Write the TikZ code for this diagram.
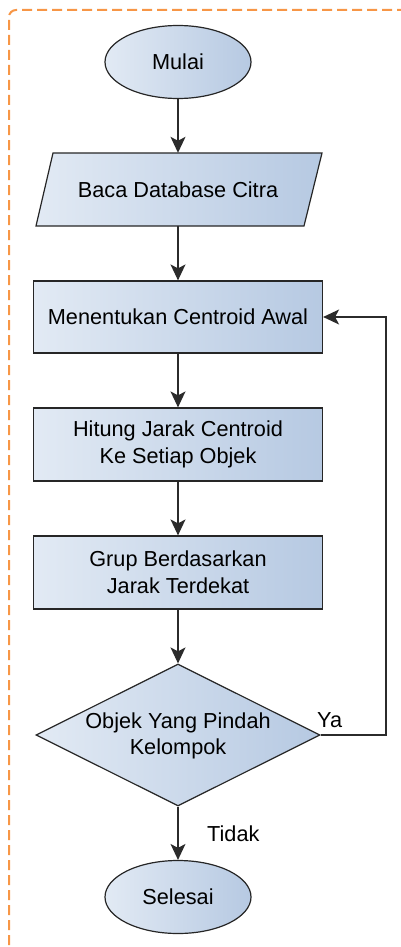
\documentclass[tikz,border=0pt]{standalone}
\usepackage{fontspec}
\setmainfont{Liberation Sans}
\usetikzlibrary{shapes.geometric,arrows.meta}
\definecolor{fillL}{HTML}{E2EAF4}
\definecolor{fillR}{HTML}{B6C9E2}
\definecolor{frameC}{HTML}{F79646}
\definecolor{lineC}{HTML}{2B2B2B}
\tikzset{
  shapefill/.style={draw=black!85, line width=1.2pt, left color=fillL, right color=fillR},
  shapebox/.style={shapefill, inner sep=0pt, align=center, font=\fontsize{21.7}{26.7}\selectfont},
  term/.style={shapebox, ellipse, minimum width=146pt, minimum height=73pt},
  proc/.style={shapebox, rectangle, minimum width=289pt, minimum height=72pt},
  dec/.style={shapebox, diamond, minimum width=284pt, minimum height=142pt},
  flow/.style={draw=lineC, line width=1.2pt, -{Stealth[length=16pt,width=15pt,inset=4pt]}},
  lbl/.style={font=\fontsize{21.7}{26.7}\selectfont, inner sep=0pt, align=center},
}
\begin{document}
\begin{tikzpicture}[x=1pt,y=-1pt]
\useasboundingbox (0,0) rectangle (401,947);
\clip (0,0) rectangle (401,947);
\draw[frameC, line width=2pt, dash pattern=on 10pt off 5pt, rounded corners=7pt] (9,960) -- (9,10) -- (420,10);

\node[term] (start) at (178,62) {Mulai};

\draw[shapefill] (53,153) -- (322,153) -- (304,226) -- (36,226) -- cycle;
\node[lbl, minimum width=270pt, minimum height=73pt] (read) at (178,189.5) {Baca Database Citra};

\node[proc] (init) at (178,317) {Menentukan Centroid Awal};
\node[proc, minimum height=73pt] (dist) at (178,444.5) {Hitung Jarak Centroid\\Ke Setiap Objek};
\node[proc, minimum height=73pt] (group) at (178,572.5) {Grup Berdasarkan\\Jarak Terdekat};
\node[dec] (move) at (178,735) {};
\node[lbl] (movetxt) at (178,736) {Objek Yang Pindah\\Kelompok};
\node[term] (finish) at (178,897) {Selesai};

\coordinate (loop) at (386,735);

\draw[flow] (start) -- (read);
\draw[flow] (read) -- (init);
\draw[flow] (init) -- (dist);
\draw[flow] (dist) -- (group);
\draw[flow] (group) -- (move);
\draw[flow] (move) -- (finish);
\draw[flow] (move.east) -- (loop) |- (init.east);

\node[lbl, anchor=base west] (ya) at (317,727) {Ya};
\node[lbl, anchor=base west] (tidak) at (207,841) {Tidak};
\end{tikzpicture}
\end{document}
